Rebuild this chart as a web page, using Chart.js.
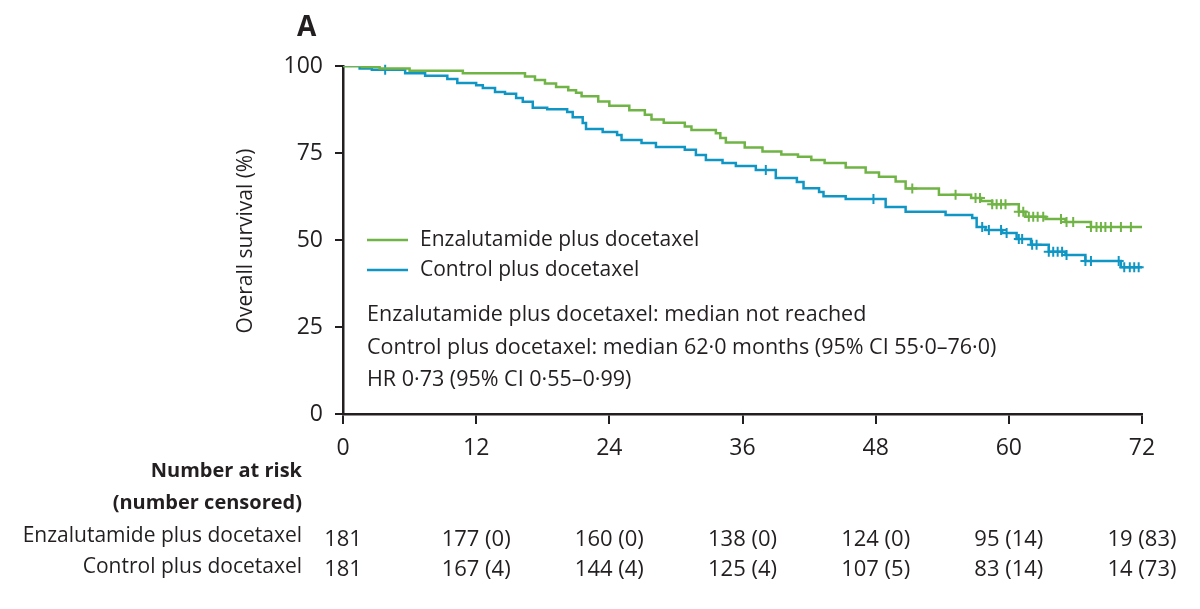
<!DOCTYPE html>
<html>
<head>
<meta charset="utf-8">
<script src="https://cdn.jsdelivr.net/npm/chart.js@4.4.1/dist/chart.umd.min.js"></script>
<style>
  html, body { margin: 0; padding: 0; background: #fff; }
  #wrap { width: 1200px; height: 609px; }
</style>
</head>
<body>
<div id="wrap"><canvas id="km" width="1200" height="609"></canvas></div>
<script>
// Kaplan-Meier steps: [month, survival %]
const enzaSteps = [
  [0, 100], [1.7, 99.7], [3.3, 99.3], [6.0, 98.6], [10.8, 97.9], [16.4, 97.0], [17.3, 96.0],
  [18.2, 95.0], [19.2, 94.0], [20.3, 93.0], [21.0, 92.3], [21.5, 91.3], [23.0, 89.8],
  [24.0, 88.6], [25.8, 87.3], [27.2, 86.0], [27.8, 84.6], [28.9, 83.7], [30.8, 82.6],
  [31.4, 81.6], [33.6, 80.7], [34.0, 79.3], [34.5, 78.0], [36.2, 76.6], [37.8, 75.4],
  [39.5, 74.6], [41.0, 73.9], [42.2, 73.0], [43.4, 72.1], [45.3, 70.8], [47.1, 69.4],
  [48.3, 68.2], [49.8, 66.8], [50.7, 64.8], [53.7, 63.0], [56.6, 62.1], [57.5, 61.2],
  [58.5, 60.3], [60.9, 58.1], [61.5, 56.7], [63.3, 56.0], [65.1, 55.2], [67.4, 53.7], [72, 53.7]
];
const controlSteps = [
  [0, 100], [1.5, 99.3], [2.6, 98.9], [5.6, 97.9], [7.4, 97.2], [9.4, 96.3], [10.3, 95.1],
  [12.0, 94.5], [12.6, 93.7], [13.7, 92.5], [14.6, 92.0], [15.6, 90.8], [16.2, 89.7],
  [17.1, 88.0], [18.4, 87.6], [20.2, 86.8], [20.7, 85.3], [21.6, 83.6], [21.9, 81.9],
  [23.4, 81.0], [24.7, 80.2], [25.1, 78.7], [26.9, 77.9], [28.2, 76.7], [30.8, 75.9],
  [31.8, 74.4], [32.7, 73.0], [34.2, 72.1], [35.4, 71.3], [37.2, 70.1], [39.0, 67.8],
  [40.9, 66.7], [41.5, 64.9], [42.9, 63.8], [43.3, 62.6], [45.3, 61.8], [48.9, 59.5],
  [50.7, 58.1], [54.3, 57.2], [56.7, 56.3], [57.1, 53.7], [57.9, 52.9], [59.4, 52.0],
  [60.7, 50.3], [62.0, 48.6], [63.6, 46.6], [65.1, 45.7], [66.9, 44.0], [70.1, 42.2], [72, 42.2]
];

// censoring marks (months)
const enzaCensored = [51.3, 55.2, 57.0, 57.4, 58.5, 58.9, 59.3, 59.7, 60.9, 61.3, 61.8, 62.2,
  62.6, 63.1, 64.7, 65.2, 65.8, 67.4, 67.9, 68.3, 68.7, 69.2, 70.1, 71.0];
const controlCensored = [3.8, 38.1, 47.8, 57.6, 58.2, 59.3, 59.8, 60.9, 61.2, 62.1, 62.5, 63.6,
  64.0, 64.4, 64.8, 65.2, 66.9, 67.4, 69.9, 70.4, 70.9, 71.3, 71.7];

// number at risk table
const riskMonths = [0, 12, 24, 36, 48, 60, 72];
const enzaAtRisk = [181, 177, 160, 138, 124, 95, 19];
const enzaCens = [null, 0, 0, 0, 0, 14, 83];
const controlAtRisk = [181, 167, 144, 125, 107, 83, 14];
const controlCens = [null, 4, 4, 4, 5, 14, 73];

const GREEN = "#70b446";
const BLUE = "#1096c4";
const INK = "#231f20";
const FONT = "'Open Sans', 'DejaVu Sans', sans-serif";

// survival value on a step curve at time t (so + marks sit on the line)
const survAt = (steps, t) => {
  let v = steps[0][1];
  steps.forEach(([m, s]) => { if (m <= t) v = s; });
  return v;
};

const toXY = (steps) => steps.map(([x, y]) => ({ x, y }));
const marks = (steps, times) => times.map((t) => ({ x: t, y: survAt(steps, t) }));

// extra text: panel letter, axis title, legend, stats and risk table
const annotations = {
  id: "annotations",
  afterDraw(chart) {
    const ctx = chart.ctx;
    const xs = chart.scales.x;
    ctx.save();
    ctx.fillStyle = INK;
    ctx.textBaseline = "middle";

    ctx.font = "bold 28px " + FONT;
    ctx.textAlign = "left";
    ctx.fillText("A", 297, 28);

    // y axis title
    ctx.save();
    ctx.translate(246, 241);
    ctx.rotate(-Math.PI / 2);
    ctx.textAlign = "center";
    ctx.font = "21px " + FONT;
    ctx.fillText("Overall survival (%)", 0, 0);
    ctx.restore();

    // legend
    ctx.lineWidth = 2.5;
    ctx.strokeStyle = GREEN;
    ctx.beginPath(); ctx.moveTo(367, 240); ctx.lineTo(408, 240); ctx.stroke();
    ctx.strokeStyle = BLUE;
    ctx.beginPath(); ctx.moveTo(367, 270); ctx.lineTo(408, 270); ctx.stroke();
    ctx.font = "21px " + FONT;
    ctx.textAlign = "left";
    ctx.fillText("Enzalutamide plus docetaxel", 420, 240);
    ctx.fillText("Control plus docetaxel", 420, 270);

    ctx.font = "21.5px " + FONT;
    ctx.fillText("Enzalutamide plus docetaxel: median not reached", 367, 315);
    ctx.fillText("Control plus docetaxel: median 62\u00b70 months (95% CI 55\u00b70\u201376\u00b70)", 367, 348);
    ctx.fillText("HR 0\u00b773 (95% CI 0\u00b755\u20130\u00b799)", 367, 380);

    // number at risk
    ctx.textAlign = "right";
    ctx.font = "bold 20px " + FONT;
    ctx.fillText("Number at risk", 302, 471);
    ctx.fillText("(number censored)", 302, 503);
    ctx.font = "21px " + FONT;
    ctx.fillText("Enzalutamide plus docetaxel", 302, 536);
    ctx.fillText("Control plus docetaxel", 302, 567);

    ctx.textAlign = "center";
    ctx.font = "22px " + FONT;
    riskMonths.forEach((m, i) => {
      const px = xs.getPixelForValue(m);
      const a = enzaCens[i] === null ? String(enzaAtRisk[i]) : enzaAtRisk[i] + " (" + enzaCens[i] + ")";
      const b = controlCens[i] === null ? String(controlAtRisk[i]) : controlAtRisk[i] + " (" + controlCens[i] + ")";
      ctx.fillText(a, px, 540);
      ctx.fillText(b, px, 570);
    });
    ctx.restore();
  },
};

const ctx = document.getElementById("km").getContext("2d");
new Chart(ctx, {
  type: "line",
  data: {
    datasets: [
      {
        label: "Enzalutamide plus docetaxel",
        data: toXY(enzaSteps),
        borderColor: GREEN,
        borderWidth: 2.5,
        stepped: true,
        pointRadius: 0,
        fill: false,
      },
      {
        label: "Control plus docetaxel",
        data: toXY(controlSteps),
        borderColor: BLUE,
        borderWidth: 2.5,
        stepped: true,
        pointRadius: 0,
        fill: false,
      },
      {
        label: "enza censored",
        data: marks(enzaSteps, enzaCensored),
        showLine: false,
        pointStyle: "cross",
        pointRadius: 5,
        borderColor: GREEN,
        borderWidth: 2,
        clip: false,
      },
      {
        label: "control censored",
        data: marks(controlSteps, controlCensored),
        showLine: false,
        pointStyle: "cross",
        pointRadius: 5,
        borderColor: BLUE,
        borderWidth: 2,
        clip: false,
      },
    ],
  },
  options: {
    responsive: false,
    animation: false,
    layout: { padding: { top: 66, right: 58, left: 0, bottom: 0 } },
    plugins: { legend: { display: false }, tooltip: { enabled: false } },
    scales: {
      x: {
        type: "linear",
        min: 0,
        max: 72,
        afterFit: (scale) => { scale.height = 195; },
        afterBuildTicks: (scale) => { scale.ticks = riskMonths.map((v) => ({ value: v })); },
        border: { color: INK, width: 2.5 },
        grid: { drawOnChartArea: false, drawTicks: true, tickLength: 10, color: INK, lineWidth: 2 },
        ticks: { color: INK, font: { size: 23, family: FONT }, padding: 11, maxRotation: 0 },
      },
      y: {
        min: 0,
        max: 100,
        afterFit: (scale) => { scale.width = 343; },
        ticks: { stepSize: 25, color: INK, font: { size: 23, family: FONT }, padding: 12 },
        border: { color: INK, width: 2.5 },
        grid: { drawOnChartArea: false, drawTicks: true, tickLength: 8, color: INK, lineWidth: 2 },
      },
    },
  },
  plugins: [annotations],
});
</script>
</body>
</html>
